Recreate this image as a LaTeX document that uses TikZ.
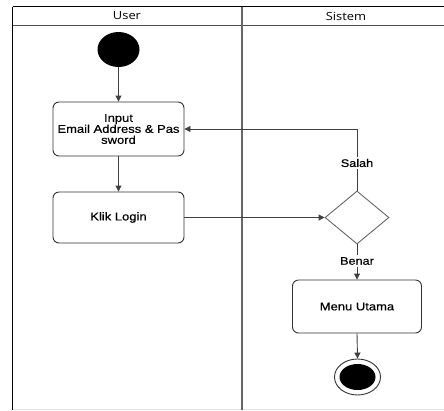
\documentclass[tikz,border=0pt]{standalone}
\usepackage{fontspec}
\setmainfont[FakeStretch=1.15,FakeBold=0.4]{Liberation Sans}
\newfontfamily\headfont[FakeStretch=1.15]{Open Sans}
\usetikzlibrary{shapes.geometric,arrows.meta}
\begin{document}
\begin{tikzpicture}[x=1pt,y=-1pt,
  every node/.style={inner sep=0pt},
  actbox/.style={draw=black!80, line width=0.9pt, rounded corners=6pt, fill=white,
    font=\fontsize{11.3}{11}\selectfont, align=center},
  lanehead/.style={font=\headfont\fontsize{11.2}{13}\selectfont},
  flow/.style={draw=black!75, line width=0.9pt},
  arr/.style={flow, -{Triangle[length=6pt,width=6pt]}},
  guard/.style={fill=white, font=\fontsize{11}{13}\selectfont, inner sep=1.5pt}]
\useasboundingbox (0,0) rectangle (444,410);

% swimlane frame
\draw[black!12, line width=1pt] (12.5,409.5) -- (444,409.5);
\draw[black, line width=1.2pt] (12.5,6.5) -- (444,6.5);
\draw[black!70, line width=1.4pt] (12.5,25.3) -- (444,25.3);
\draw[black!60, line width=2pt] (242,6.5) -- (242,409.5);
\draw[black, line width=1.3pt] (12.5,6.5) -- (12.5,409.5);
\node[lanehead] (luser) at (127,16) {User};
\node[lanehead] (lsys) at (346,16) {Sistem};

% activity nodes
\node[ellipse, fill=black, minimum width=42pt, minimum height=35pt] (start) at (118.5,49.5) {};
\node[actbox, minimum width=131pt, minimum height=54pt] (input) at (118.5,129)
  {Input\\Email Address \& Pas\\sword};
\node[actbox, minimum width=131pt, minimum height=51pt] (login) at (118.5,217.5) {Klik Login};
\node[diamond, draw=black!60, line width=0.9pt, fill=white, minimum width=64pt,
  minimum height=53pt, aspect=1.21] (dec) at (357,217.5) {};
\node[guard] (salah) at (357,163) {Salah};
\node[guard] (benar) at (357,261) {Benar};
\node[actbox, minimum width=129pt, minimum height=53pt] (menu) at (357,306.5) {Menu Utama};
\node[ellipse, draw=black!80, line width=0.9pt, fill=white, minimum width=46pt,
  minimum height=36pt] (stop) at (357.5,377) {};
\node[ellipse, fill=black, minimum width=36pt, minimum height=26pt] (stopin) at (357.5,377) {};

% transitions
\draw[arr] (start) -- (input);
\draw[arr] (input) -- (login);
\draw[arr] (login) -- (dec.west);
\draw[flow] (dec.north) -- (salah.south);
\draw[arr] (salah.north) |- (input.east);
\draw[flow] (dec.south) -- (benar.north);
\draw[arr] (benar.south) -- (menu.north);
\draw[arr] (menu.south) -- (stop.north);
\end{tikzpicture}
\end{document}
